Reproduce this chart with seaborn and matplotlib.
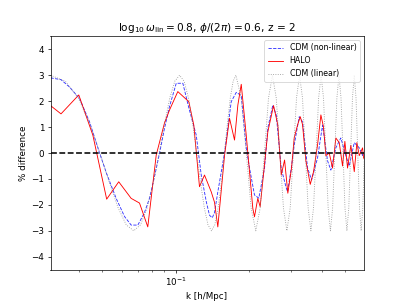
import matplotlib
matplotlib.use("Agg")
import matplotlib.pyplot as plt
import seaborn as sns

# CDM (linear)
k_lin = [0.0306, 0.0352, 0.0398, 0.0443, 0.0489, 0.0535, 0.0581, 0.0627,
         0.0673, 0.0718, 0.0764, 0.0810, 0.0856, 0.0902, 0.0947, 0.0993,
         0.1039, 0.1085, 0.1131, 0.1176, 0.1222, 0.1268, 0.1314, 0.1360,
         0.1406, 0.1451, 0.1497, 0.1543, 0.1589, 0.1635, 0.1680, 0.1726,
         0.1772, 0.1864, 0.1955, 0.2047, 0.2139, 0.2230, 0.2322, 0.2413,
         0.2505, 0.2597, 0.2688, 0.2780, 0.2872, 0.2963, 0.3055, 0.3146,
         0.3238, 0.3330, 0.3421, 0.3513, 0.3605, 0.3696, 0.3788, 0.3879,
         0.3971, 0.4063, 0.4154, 0.4246, 0.4338, 0.4429, 0.4521, 0.4612,
         0.4704, 0.4796, 0.4887, 0.4979, 0.5071, 0.5162, 0.5254, 0.5345,
         0.5437, 0.5529, 0.5620, 0.5712, 0.5804, 0.5895, 0.5987]
d_lin = [3.0, 2.77, 2.12, 1.15, 0.0, -1.15, -2.12, -2.77,
         -3.0, -2.77, -2.12, -1.15, 0.0, 1.15, 2.12, 2.77,
         3.0, 2.77, 2.12, 1.15, 0.0, -1.15, -2.12, -2.77,
         -3.0, -2.77, -2.12, -1.15, 0.0, 1.15, 2.12, 2.77,
         3.0, 2.12, 0.0, -2.12, -3.0, -2.12, 0.0, 2.12,
         3.0, 2.12, 0.0, -2.12, -3.0, -2.12, 0.0, 2.12,
         3.0, 2.12, 0.0, -2.12, -3.0, -2.12, 0.0, 2.12,
         3.0, 2.12, 0.0, -2.12, -3.0, -2.12, 0.0, 2.12,
         3.0, 2.12, 0.0, -2.12, -3.0, -2.12, 0.0, 2.12,
         3.0, 2.12, 0.0, -2.12, -3.0, -2.12, 0.0]

# CDM (non-linear)
k_nl = [0.0306, 0.0338, 0.0366, 0.0403, 0.0443, 0.0487, 0.0521, 0.0570,
        0.0617, 0.0657, 0.0700, 0.0745, 0.0782, 0.0820, 0.0860, 0.0901,
        0.0945, 0.1007, 0.1072, 0.1134, 0.1217, 0.1276, 0.1340, 0.1380,
        0.1416, 0.1447, 0.1493, 0.1591, 0.1695, 0.1778, 0.1864, 0.1954,
        0.2016, 0.2113, 0.2201, 0.2323, 0.2398, 0.2514, 0.2597, 0.2723,
        0.2855, 0.2890, 0.2993, 0.3078, 0.3228, 0.3331, 0.3494, 0.3629,
        0.3840, 0.4027, 0.4222, 0.4356, 0.4567, 0.4788, 0.5020, 0.5185,
        0.5437, 0.5702, 0.5882, 0.5940]
d_nl = [2.90, 2.83, 2.55, 2.10, 1.20, 0.0, -0.80, -1.75,
        -2.45, -2.78, -2.78, -2.30, -1.74, -0.90, 0.0, 0.95,
        1.80, 2.69, 2.69, 1.75, 0.69, -0.85, -1.90, -2.40,
        -2.50, -2.30, -1.50, 0.0, 1.98, 2.34, 2.22, 0.20,
        -0.58, -1.62, -1.74, -0.60, 0.97, 1.85, 1.47, -0.60,
        -1.35, -1.49, -0.60, 0.30, 1.40, 1.20, -0.58, -1.04,
        -0.19, 1.08, -0.30, -0.66, 0.20, 0.58, -0.10, -0.50,
        0.40, 0.20, -0.10, 0.0]

# HALO
k_halo = [0.0306, 0.0338, 0.0400, 0.0457, 0.0521, 0.0584, 0.0657, 0.0711,
          0.0769, 0.0833, 0.0901, 0.0945, 0.1022, 0.1134, 0.1189, 0.1255,
          0.1316, 0.1403, 0.1447, 0.1493, 0.1591, 0.1668, 0.1749, 0.1805,
          0.1864, 0.1954, 0.2080, 0.2113, 0.2180, 0.2230, 0.2398, 0.2531,
          0.2636, 0.2723, 0.2810, 0.2898, 0.3001, 0.3078, 0.3177, 0.3260,
          0.3331, 0.3438, 0.3584, 0.3698, 0.3840, 0.3963, 0.4064, 0.4154,
          0.4290, 0.4427, 0.4567, 0.4716, 0.4866, 0.4974, 0.5102, 0.5264,
          0.5437, 0.5574, 0.5702, 0.5882, 0.5940]
d_halo = [1.83, 1.51, 2.24, 0.69, -1.78, -1.11, -1.75, -1.93,
          -2.85, -0.08, 1.16, 1.66, 2.37, 1.98, 1.08, -1.30,
          -0.85, -1.50, -1.90, -2.85, -0.10, 1.34, 0.50, 1.85,
          2.65, 0.69, -2.14, -2.46, -1.75, -2.07, 0.82, 1.83,
          1.08, -0.85, -0.27, -1.55, -0.58, 0.58, 1.08, 1.40,
          1.10, -0.30, -1.21, -0.72, 0.31, 1.47, 1.00, -0.10,
          0.00, -0.58, 0.58, 0.40, -0.50, 0.45, -0.58, 0.30,
          -0.72, 0.40, -0.10, 0.20, -0.20]

fig, ax = plt.subplots(figsize=(6.4, 4.8), dpi=63.125)

sns.lineplot(x=k_nl, y=d_nl, ax=ax, color="b", linestyle="--", lw=1,
             alpha=0.8, label="CDM (non-linear)", estimator=None, sort=False)
sns.lineplot(x=k_halo, y=d_halo, ax=ax, color="r", lw=1,
             label="HALO", estimator=None, sort=False)
sns.lineplot(x=k_lin, y=d_lin, ax=ax, color="gray", linestyle=":", lw=1,
             alpha=0.8, label="CDM (linear)", estimator=None, sort=False)
ax.axhline(0, color="k", linestyle="--", lw=1.8)

ax.set_xscale("log")
ax.set_xlim(0.0306, 0.594)
ax.set_ylim(-4.5, 4.5)
ax.set_yticks([-4, -3, -2, -1, 0, 1, 2, 3, 4])
ax.set_xlabel("k [h/Mpc]")
ax.set_ylabel("% difference")
ax.set_title(r"$\log_{10}\omega_{\rm lin} = 0.8$, $\phi/(2\pi) = 0.6$, z = 2")
ax.legend(loc="upper right", fontsize=9)

plt.savefig("out.png", dpi=63.125)
